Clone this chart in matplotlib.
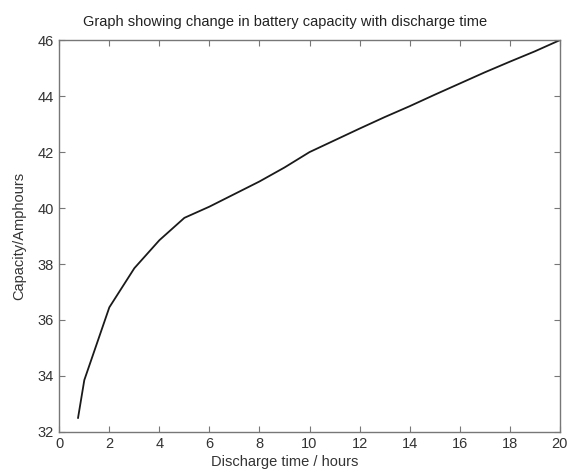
import matplotlib
matplotlib.use('Agg')
from matplotlib import pyplot as plt

# discharge time (hours) vs capacity (Ah)
hours = [0.75, 1, 2, 3, 4, 5, 6, 7, 8, 9, 10, 11, 12, 13, 14, 15, 16, 17, 18, 19, 20]
capacity = [32.5, 33.85, 36.45, 37.85, 38.85, 39.65, 40.05, 40.5, 40.95, 41.45,
            42.0, 42.42, 42.84, 43.25, 43.64, 44.05, 44.45, 44.85, 45.23, 45.6, 46.0]

x_ticks = list(range(0, 21, 2))
y_ticks = list(range(32, 47, 2))

plt.rcParams.update({'font.family': ['Liberation Sans', 'DejaVu Sans'],
                     'font.size': 10})

fig = plt.figure(figsize=(5.7, 4.73), dpi=100)
ax = fig.add_axes([0.104, 0.087, 0.878, 0.828])

ax.plot(hours, capacity, color='#1a1a1a', linewidth=1.3)

ax.set_xlim(0, 20)
ax.set_ylim(32, 46)
ax.set_xticks(x_ticks)
ax.set_yticks(y_ticks)

for s in ax.spines.values():
    s.set_color('#777777')
    s.set_linewidth(1.0)
ax.tick_params(direction='in', top=True, right=True, length=4, width=0.8,
               color='#777777', labelcolor='#333333', labelsize=10.5, pad=4)

ax.set_ylabel('Capacity/Amphours', color='#333333', fontsize=10.5, labelpad=8)

# title and x label sit at the figure centre, not the axes centre
fig.text(0.5, 0.953, 'Graph showing change in battery capacity with discharge time',
         ha='center', va='center', color='#222222', fontsize=10.5)
fig.text(0.5, 0.023, 'Discharge time / hours', ha='center', va='center',
         color='#333333', fontsize=10.5)

fig.savefig('out.png', dpi=100)
